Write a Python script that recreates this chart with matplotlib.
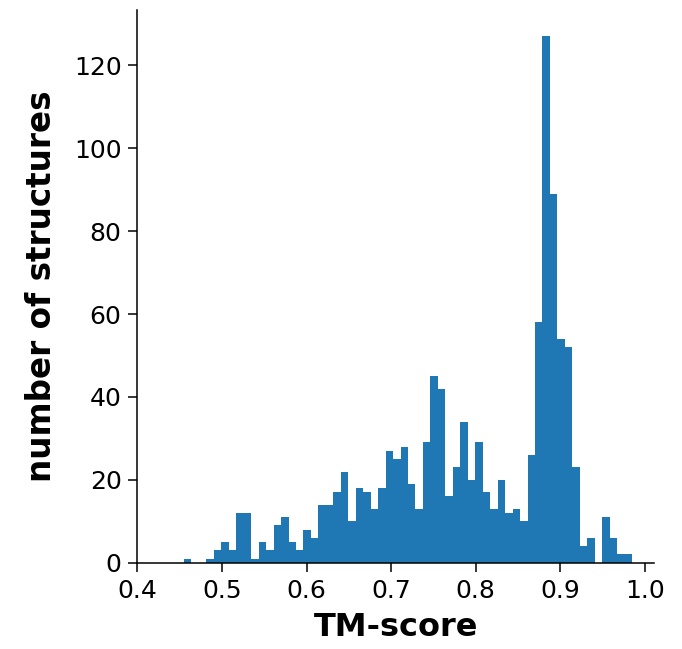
import numpy as np
import matplotlib
matplotlib.use("Agg")
import matplotlib.pyplot as plt

# histogram of TM-scores, 60 bins, counts
bin_start = 0.455
bin_end = 0.985
counts = [1, 0, 0, 1, 3, 5, 3, 12, 12, 1,
          5, 3, 9, 11, 5, 3, 8, 6, 14, 14,
          17, 22, 10, 18, 17, 13, 18, 27, 25, 28,
          19, 13, 29, 45, 42, 16, 23, 34, 20, 29,
          17, 13, 20, 12, 13, 10, 26, 58, 127, 89,
          54, 52, 23, 4, 6, 0, 11, 6, 2, 2]

edges = np.linspace(bin_start, bin_end, len(counts) + 1)
centers = 0.5 * (edges[:-1] + edges[1:])

fig = plt.figure(figsize=(6.82, 6.49), dpi=100)
ax = fig.add_axes([0.2016, 0.133, 0.7574, 0.8516])
ax.hist(centers, bins=edges, weights=counts, color="#1f77b4")

ax.set_xlim(0.4, 1.011)
ax.set_xticks([0.4, 0.5, 0.6, 0.7, 0.8, 0.9, 1.0])
ax.set_xticklabels(["0.4", "0.5", "0.6", "0.7", "0.8", "0.9", "1.0"])
ax.set_yticks([0, 20, 40, 60, 80, 100, 120])

ax.spines["top"].set_visible(False)
ax.spines["right"].set_visible(False)
for s in ["left", "bottom"]:
    ax.spines[s].set_linewidth(1.1)
ax.tick_params(labelsize=18, length=6.5, width=1.1, pad=5)

ax.set_xlabel("TM-score", fontsize=23, fontweight="bold", labelpad=7)
ax.set_ylabel("number of structures", fontsize=23.5, fontweight="bold", labelpad=11)

fig.savefig("out.png", dpi=100)
